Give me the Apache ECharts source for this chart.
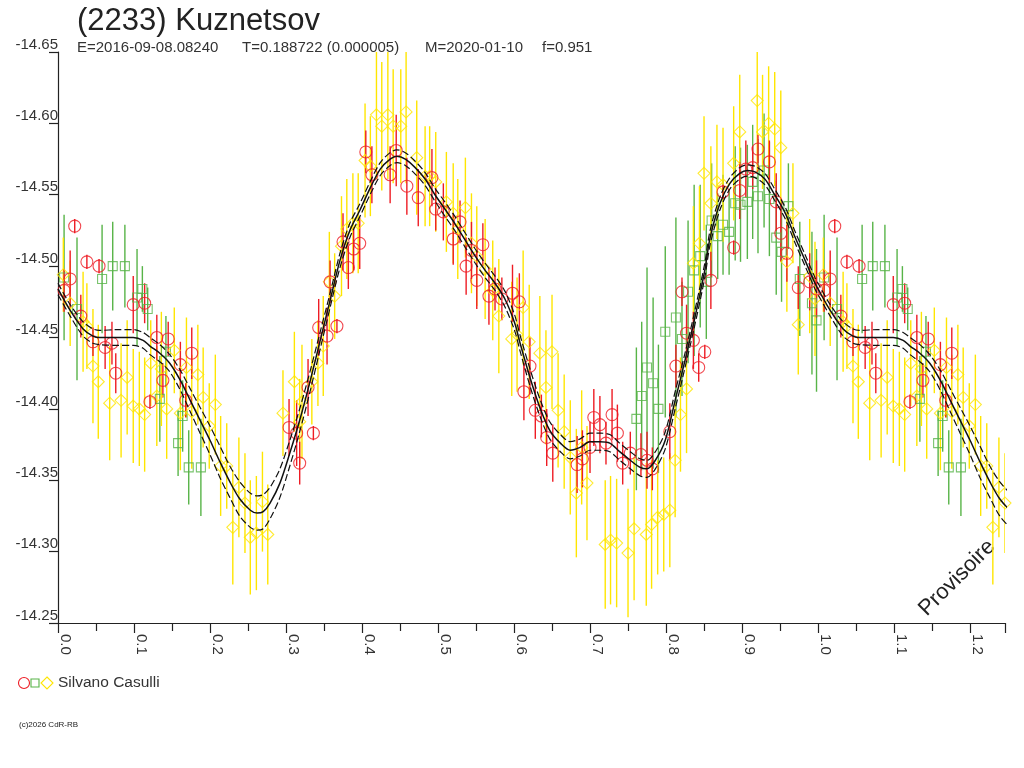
<!DOCTYPE html>
<html>
<head>
<meta charset="utf-8">
<script src="https://cdn.jsdelivr.net/npm/echarts@6/dist/echarts.min.js"></script>
<style>
  html, body { margin: 0; padding: 0; background: #fff; }
  #chart { width: 1024px; height: 768px; }
</style>
</head>
<body>
<div id="chart"></div>
<script>
// Light curve of (2233) Kuznetsov, folded on the period, shown over 1.246 cycles.
// Each point: [phase, magnitude, error]. Phases above 1 repeat the start of the cycle.
const RED_PTS = [
  [0.022,-14.528,0.005],[0.038,-14.503,0.005],[0.054,-14.500,0.005],[0.016,-14.491,0.02],
  [0.008,-14.483,0.015],[0.030,-14.465,0.015],[0.099,-14.473,0.02],[0.114,-14.474,0.014],
  [0.046,-14.447,0.01],[0.062,-14.443,0.015],[0.071,-14.446,0.015],[0.076,-14.425,0.014],
  [0.130,-14.450,0.016],[0.145,-14.449,0.012],[0.176,-14.439,0.018],[0.161,-14.431,0.016],
  [0.138,-14.420,0.012],[0.121,-14.405,0.005],[0.168,-14.406,0.012],[0.304,-14.387,0.02],
  [0.314,-14.383,0.023],[0.336,-14.383,0.005],[0.318,-14.362,0.015],[0.329,-14.415,0.02],
  [0.343,-14.457,0.02],[0.354,-14.451,0.02],[0.367,-14.458,0.005],[0.358,-14.489,0.015],
  [0.375,-14.517,0.02],[0.382,-14.499,0.015],[0.397,-14.516,0.018],[0.389,-14.512,0.015],
  [0.405,-14.580,0.015],[0.413,-14.564,0.02],[0.437,-14.564,0.02],[0.445,-14.581,0.025],
  [0.459,-14.556,0.02],[0.474,-14.548,0.02],[0.492,-14.562,0.02],[0.497,-14.540,0.015],
  [0.507,-14.538,0.02],[0.520,-14.519,0.018],[0.529,-14.531,0.015],[0.537,-14.500,0.02],
  [0.544,-14.511,0.02],[0.559,-14.515,0.015],[0.551,-14.490,0.02],[0.567,-14.479,0.02],
  [0.575,-14.484,0.015],[0.584,-14.477,0.015],[0.598,-14.481,0.02],[0.607,-14.475,0.02],
  [0.613,-14.412,0.02],[0.621,-14.430,0.02],[0.628,-14.399,0.02],[0.636,-14.395,0.015],
  [0.643,-14.380,0.02],[0.651,-14.369,0.02],[0.683,-14.361,0.02],[0.690,-14.365,0.02],
  [0.700,-14.373,0.018],[0.705,-14.394,0.02],[0.713,-14.389,0.02],[0.721,-14.376,0.015],
  [0.729,-14.396,0.018],[0.736,-14.383,0.02],[0.743,-14.362,0.015],[0.753,-14.369,0.015],
  [0.767,-14.368,0.015],[0.775,-14.364,0.02],[0.782,-14.358,0.015],[0.805,-14.384,0.02],
  [0.813,-14.430,0.015],[0.827,-14.453,0.02],[0.836,-14.448,0.02],[0.843,-14.429,0.01],
  [0.851,-14.440,0.005],[0.821,-14.482,0.01],[0.859,-14.490,0.02],[0.875,-14.552,0.005],
  [0.889,-14.513,0.005],[0.897,-14.553,0.02],[0.905,-14.568,0.02],[0.914,-14.569,0.015],
  [0.921,-14.582,0.01],[0.936,-14.573,0.015],[0.945,-14.545,0.02],[0.951,-14.523,0.02],
  [0.959,-14.509,0.02],[0.974,-14.485,0.015],[0.989,-14.489,0.02],[0.998,-14.484,0.02]
]

const GREEN_PTS = [
  [0.008,-14.492,0.044],[0.072,-14.500,0.031],[0.088,-14.500,0.029],[0.058,-14.491,0.038],
  [0.111,-14.484,0.016],[0.104,-14.478,0.034],[0.118,-14.470,0.015],[0.025,-14.470,0.05],
  [0.142,-14.440,0.025],[0.134,-14.407,0.03],[0.164,-14.395,0.025],[0.158,-14.376,0.023],
  [0.172,-14.359,0.026],[0.188,-14.359,0.034],
  [0.761,-14.393,0.05],[0.768,-14.409,0.052],[0.775,-14.429,0.07],[0.783,-14.418,0.06],
  [0.790,-14.400,0.045],[0.799,-14.454,0.06],[0.813,-14.464,0.07],[0.821,-14.449,0.04],
  [0.829,-14.482,0.05],[0.837,-14.497,0.06],[0.845,-14.507,0.05],[0.853,-14.489,0.04],
  [0.860,-14.532,0.04],[0.868,-14.521,0.03],[0.875,-14.529,0.035],[0.883,-14.524,0.03],
  [0.891,-14.544,0.04],[0.898,-14.543,0.04],[0.907,-14.545,0.04],[0.914,-14.559,0.04],
  [0.921,-14.549,0.04],[0.929,-14.567,0.04],[0.936,-14.547,0.04],[0.945,-14.520,0.04],
  [0.952,-14.510,0.035],[0.961,-14.542,0.03],[0.976,-14.491,0.04],[0.992,-14.474,0.05],
  [0.998,-14.462,0.05]
]

const YELLOW_PTS = [
  [0.007,-14.494,0.026],[0.016,-14.474,0.03],[0.033,-14.461,0.035],[0.038,-14.458,0.03],
  [0.046,-14.430,0.04],[0.053,-14.419,0.04],[0.068,-14.404,0.04],[0.083,-14.406,0.04],
  [0.091,-14.422,0.04],[0.099,-14.402,0.04],[0.107,-14.400,0.04],[0.114,-14.396,0.04],
  [0.122,-14.432,0.03],[0.130,-14.409,0.035],[0.136,-14.428,0.04],[0.143,-14.400,0.035],
  [0.153,-14.441,0.03],[0.161,-14.397,0.04],[0.169,-14.429,0.035],[0.176,-14.398,0.04],
  [0.184,-14.424,0.035],[0.191,-14.408,0.035],[0.207,-14.403,0.035],[0.199,-14.388,0.03],
  [0.214,-14.360,0.035],[0.222,-14.360,0.03],[0.230,-14.317,0.04],[0.238,-14.345,0.035],
  [0.246,-14.334,0.035],[0.253,-14.310,0.04],[0.261,-14.313,0.04],[0.269,-14.335,0.035],
  [0.276,-14.312,0.035],[0.296,-14.397,0.03],[0.311,-14.419,0.035],[0.321,-14.405,0.04],
  [0.318,-14.391,0.03],[0.334,-14.419,0.03],[0.342,-14.432,0.03],[0.349,-14.444,0.035],
  [0.357,-14.489,0.035],[0.364,-14.479,0.03],[0.373,-14.514,0.035],[0.380,-14.526,0.035],
  [0.388,-14.530,0.035],[0.395,-14.530,0.035],[0.404,-14.574,0.04],[0.411,-14.570,0.035],
  [0.419,-14.606,0.045],[0.426,-14.598,0.045],[0.434,-14.606,0.045],[0.441,-14.598,0.04],
  [0.451,-14.598,0.04],[0.458,-14.608,0.05],[0.472,-14.576,0.04],[0.483,-14.563,0.035],
  [0.489,-14.563,0.035],[0.497,-14.559,0.035],[0.511,-14.545,0.035],[0.520,-14.537,0.035],
  [0.536,-14.541,0.035],[0.526,-14.526,0.035],[0.544,-14.516,0.035],[0.551,-14.507,0.035],
  [0.562,-14.498,0.035],[0.572,-14.483,0.035],[0.580,-14.465,0.04],[0.597,-14.449,0.04],
  [0.604,-14.452,0.04],[0.612,-14.471,0.04],[0.620,-14.447,0.04],[0.634,-14.439,0.04],
  [0.650,-14.440,0.04],[0.642,-14.415,0.04],[0.658,-14.399,0.04],[0.666,-14.384,0.04],
  [0.674,-14.366,0.04],[0.689,-14.373,0.04],[0.682,-14.341,0.045],[0.696,-14.348,0.04],
  [0.720,-14.305,0.045],[0.727,-14.308,0.045],[0.735,-14.306,0.045],[0.750,-14.299,0.045],
  [0.758,-14.316,0.05],[0.774,-14.312,0.05],[0.781,-14.319,0.045],[0.789,-14.324,0.04],
  [0.797,-14.326,0.04],[0.805,-14.329,0.04],[0.812,-14.364,0.04],[0.819,-14.396,0.04],
  [0.827,-14.414,0.045],[0.836,-14.502,0.04],[0.844,-14.516,0.04],[0.850,-14.565,0.04],
  [0.859,-14.544,0.04],[0.867,-14.559,0.04],[0.875,-14.557,0.04],[0.889,-14.572,0.04],
  [0.897,-14.594,0.04],[0.920,-14.616,0.05],[0.927,-14.594,0.04],[0.935,-14.600,0.04],
  [0.943,-14.596,0.04],[0.951,-14.583,0.04],[0.959,-14.503,0.035],[0.967,-14.537,0.035],
  [0.974,-14.459,0.035],[0.989,-14.493,0.04],[0.996,-14.477,0.04]
]

// Fitted curve and its uncertainty band.
const CURVE_PHASE = [
  0.000,0.016,0.033,0.046,0.055,0.078,0.099,0.112,0.121,0.134,0.147,0.161,0.174,0.187,
  0.200,0.213,0.226,0.239,0.253,0.262,0.270,0.279,0.292,0.305,0.318,0.332,0.345,0.358,
  0.371,0.384,0.397,0.411,0.424,0.437,0.446,0.457,0.470,0.483,0.496,0.509,0.522,0.536,
  0.549,0.562,0.575,0.588,0.601,0.608,0.621,0.634,0.647,0.661,0.674,0.687,0.700,0.713,
  0.726,0.739,0.753,0.766,0.775,0.786,0.799,0.812,0.825,0.838,0.851,0.858,0.871,0.884,
  0.897,0.907,0.917,0.930,0.943,0.957,0.970,0.983,0.996
]
const CURVE_MAG = [
  -14.484,-14.469,-14.456,-14.451,-14.450,-14.450,-14.450,-14.448,-14.444,-14.439,-14.432,-14.420,-14.406,-14.392,
  -14.378,-14.363,-14.349,-14.337,-14.329,-14.327,-14.328,-14.334,-14.348,-14.369,-14.392,-14.420,-14.448,-14.476,
  -14.504,-14.525,-14.539,-14.555,-14.568,-14.575,-14.577,-14.575,-14.569,-14.561,-14.550,-14.540,-14.530,-14.518,
  -14.507,-14.497,-14.488,-14.477,-14.460,-14.446,-14.422,-14.401,-14.385,-14.376,-14.371,-14.373,-14.377,-14.377,
  -14.376,-14.370,-14.364,-14.359,-14.358,-14.364,-14.378,-14.406,-14.434,-14.464,-14.497,-14.520,-14.544,-14.558,
  -14.565,-14.567,-14.566,-14.561,-14.550,-14.537,-14.520,-14.504,-14.488
]
const CURVE_SIG = [
  0.004,0.004,0.005,0.005,0.005,0.0055,0.0055,0.0055,0.006,0.006,0.006,0.007,0.008,0.009,
  0.010,0.011,0.011,0.012,0.012,0.012,0.012,0.011,0.010,0.009,0.008,0.007,0.006,0.005,
  0.005,0.005,0.0045,0.0045,0.0045,0.0045,0.0045,0.0045,0.0045,0.0045,0.0045,0.005,0.005,0.005,
  0.005,0.005,0.005,0.0055,0.0055,0.0055,0.006,0.006,0.006,0.006,0.006,0.006,0.006,0.006,
  0.006,0.006,0.006,0.006,0.006,0.006,0.006,0.006,0.005,0.005,0.005,0.005,0.0045,0.004,
  0.004,0.004,0.004,0.004,0.004,0.004,0.004,0.004,0.004
]

const Y_TICKS = ["-14.65", "-14.60", "-14.55", "-14.50", "-14.45", "-14.40", "-14.35", "-14.30", "-14.25"]

// Header fields, drawn at their own columns like the original.
const HEADER_FIELDS = ["E=2016-09-08.08240", "T=0.188722 (0.000005)", "M=2020-01-10", "f=0.951"]
const HEADER_X = [77, 242, 425, 542]

const PHASE_MAX = 1.246
const RED = "#ee1c24"
const GREEN = "#58b448"
const YELLOW = "#ffe600"
const FONT = "Liberation Sans, Arial, sans-serif"

// Add the repeated part of the cycle (phase + 1) up to the right edge.
const unfold = (rows) =>
  rows.concat(rows.filter((r) => r[0] + 1 <= PHASE_MAX + 0.02).map((r) => [r[0] + 1].concat(r.slice(1))))

const curveRows = (offset) =>
  unfold(CURVE_PHASE.map((p, i) => [p, CURVE_MAG[i] + offset * CURVE_SIG[i]]))
    .concat([[1.0, CURVE_MAG[0] + offset * CURVE_SIG[0]]])
    .sort((a, b) => a[0] - b[0])

const errorBars = (name, rows, color) => ({
  name,
  type: "custom",
  data: unfold(rows),
  encode: {x: 0, y: 1},
  clip: true,
  silent: true,
  renderItem: (params, api) => {
    const x = api.value(0)
    const y = api.value(1)
    const e = api.value(2)
    const a = api.coord([x, y - e])
    const b = api.coord([x, y + e])
    return {
      type: "line",
      shape: {x1: a[0], y1: a[1], x2: b[0], y2: b[1]},
      style: {stroke: color, lineWidth: 1.4},
    }
  },
})

const points = (name, rows, color, symbol, size) => ({
  name,
  type: "scatter",
  data: unfold(rows).map((r) => [r[0], r[1]]),
  symbol,
  symbolSize: size,
  clip: true,
  silent: true,
  itemStyle: {color: "rgba(0,0,0,0)", borderColor: color, borderWidth: 1.1},
})

const curve = (rows, dashed) => ({
  type: "line",
  data: rows,
  showSymbol: false,
  smooth: 0.3,
  clip: true,
  silent: true,
  lineStyle: dashed
    ? {color: "#111", width: 1.2, type: [7, 3]}
    : {color: "#111", width: 1.5},
  z: 5,
})

const chart = echarts.init(document.getElementById("chart"))
chart.setOption({
  animation: false,
  backgroundColor: "#fff",
  title: {
    text: "(2233) Kuznetsov",
    left: 72,
    top: 1,
    textStyle: {fontFamily: FONT, fontSize: 31, fontWeight: "normal", color: "#222"},
  },
  grid: {left: 58, right: 19, top: 52, bottom: 145, containLabel: false},
  xAxis: {
    type: "value",
    min: 0,
    max: PHASE_MAX,
    interval: 0.1,
    splitLine: {show: false},
    axisLine: {lineStyle: {color: "#222", width: 1.2}},
    axisTick: {length: 10, lineStyle: {color: "#222", width: 1.2}},
    minorTick: {show: true, splitNumber: 2, length: 8, lineStyle: {color: "#222", width: 1.2}},
    axisLabel: {
      rotate: -90,
      margin: 11,
      verticalAlign: "bottom",
      showMaxLabel: false,
      color: "#333",
      fontFamily: FONT,
      fontSize: 15,
      formatter: (v) => v.toFixed(1),
    },
  },
  yAxis: {
    type: "value",
    inverse: true,
    min: -14.65,
    max: -14.25,
    interval: 0.05,
    splitLine: {show: false},
    axisLine: {lineStyle: {color: "#222", width: 1.2}},
    axisTick: {length: 9, lineStyle: {color: "#222", width: 1.2}},
    axisLabel: {
      margin: 0,
      verticalAlign: "bottom",
      color: "#333",
      fontFamily: FONT,
      fontSize: 15,
      formatter: (v) => Y_TICKS[Math.round((v + 14.65) / 0.05)],
    },
  },
  series: [
    errorBars("green-err", GREEN_PTS, GREEN),
    errorBars("yellow-err", YELLOW_PTS, YELLOW),
    errorBars("red-err", RED_PTS, RED),
    points("green", GREEN_PTS, GREEN, "rect", 9),
    points("yellow", YELLOW_PTS, YELLOW, "diamond", 12),
    points("red", RED_PTS, RED, "circle", 12),
    curve(curveRows(-1), true),
    curve(curveRows(1), true),
    curve(curveRows(0), false),
  ],
  graphic: HEADER_FIELDS.map((t, i) => ({
    type: "text",
    left: HEADER_X[i],
    top: 40,
    style: {text: t, font: "15px " + FONT, fill: "#333"},
  })).concat([
    {type: "circle", shape: {cx: 24, cy: 683, r: 5.5}, style: {fill: "none", stroke: RED, lineWidth: 1.1}},
    {type: "rect", shape: {x: 31, y: 679, width: 8, height: 8}, style: {fill: "none", stroke: GREEN, lineWidth: 1.1}},
    {type: "polygon", shape: {points: [[47, 677], [53, 683], [47, 689], [41, 683]]}, style: {fill: "none", stroke: YELLOW, lineWidth: 1.1}},
    {
      type: "text",
      left: 58,
      top: 675,
      style: {text: "Silvano Casulli", font: "15.5px " + FONT, fill: "#333"},
    },
    {
      type: "text",
      left: 19,
      top: 721,
      style: {text: "(c)2026 CdR-RB", font: "8px " + FONT, fill: "#222"},
    },
    {
      type: "text",
      x: 957,
      y: 578,
      rotation: Math.PI / 4,
      style: {
        text: "Provisoire",
        font: "22px " + FONT,
        fill: "#222",
        align: "center",
        verticalAlign: "middle",
      },
    },
  ]),
})
</script>
</body>
</html>
